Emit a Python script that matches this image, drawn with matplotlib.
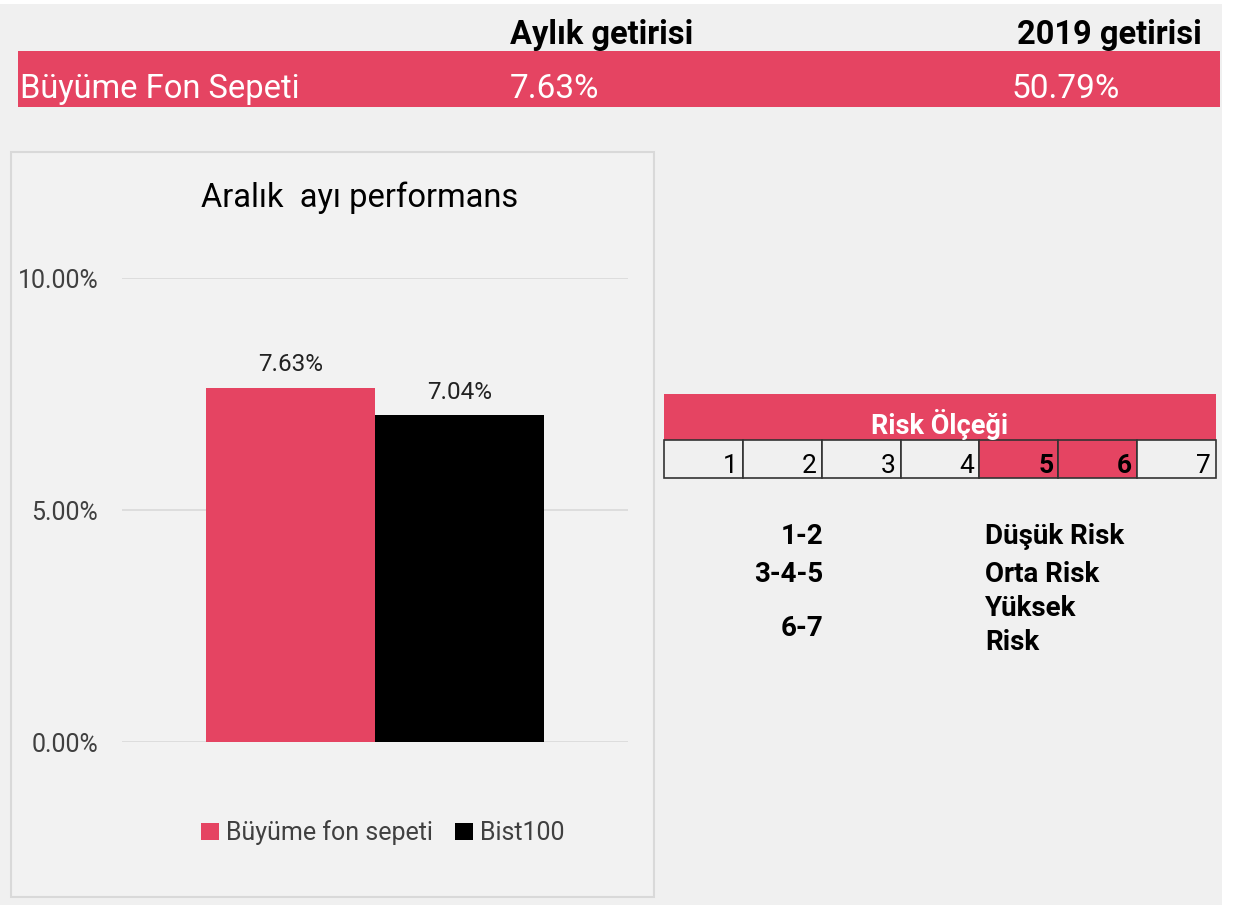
import matplotlib
matplotlib.use("Agg")
import matplotlib.pyplot as plt
from matplotlib.patches import Rectangle
from matplotlib.ticker import FuncFormatter

# veri
header_cols = ["Aylık getirisi", "2019 getirisi"]
fund_name = "Büyüme Fon Sepeti"
fund_returns = [7.63, 50.79]

chart_title = "Aralık  ayı performans"
series_names = ["Büyüme fon sepeti", "Bist100"]
series_values = [7.63, 7.04]
y_ticks = [0, 5, 10]

risk_title = "Risk Ölçeği"
risk_levels = [1, 2, 3, 4, 5, 6, 7]
fund_risk = [5, 6]
risk_groups = ["1-2", "3-4-5", "6-7"]
risk_names = ["Düşük Risk", "Orta Risk", "Yüksek\nRisk"]

RED = "#e54462"
BG = "#f0f0f0"
GREY_TXT = "#404040"

plt.rcParams["font.family"] = ["Roboto", "DejaVu Sans"]
NARROW = ["Liberation Sans Narrow", "Roboto", "DejaVu Sans"]

W, H = 1234, 908
fig = plt.figure(figsize=(W / 100, H / 100), dpi=100, facecolor="white")

# arka plan katmani (piksel koordinatlari)
bg = fig.add_axes([0, 0, 1, 1], zorder=0)
bg.set_xlim(0, W)
bg.set_ylim(H, 0)
bg.axis("off")
bg.add_patch(Rectangle((0, 4), 1222, 901, color=BG, lw=0))

# ust baslik tablosu
bg.text(510, 44, header_cols[0], fontsize=23.5, fontweight="bold", family=NARROW, ha="left", va="baseline")
bg.text(1202, 44, header_cols[1], fontsize=23.5, fontweight="bold", family=NARROW, ha="right", va="baseline")
bg.add_patch(Rectangle((18, 51), 1202, 56, color=RED, lw=0))
bg.text(20, 98, fund_name, fontsize=23.5, color="white", ha="left", va="baseline")
bg.text(510, 98, f"{fund_returns[0]:.2f}%", fontsize=24, color="white", ha="left", va="baseline")
bg.text(1012, 98, f"{fund_returns[1]:.2f}%", fontsize=24, color="white", ha="left", va="baseline")

# grafik kutusu
bg.add_patch(Rectangle((11, 152), 643, 745, facecolor="#f2f2f2", edgecolor="#d9d9d9", lw=1.5))
bg.text(360, 207, chart_title, fontsize=23.5, color="black", ha="center", va="baseline")

# cubuk grafik
ax = fig.add_axes([122 / W, 1 - 742 / H, 506 / W, 464 / H], zorder=1)
ax.patch.set_alpha(0)
xpos = [-0.167, 0.167]
bars = []
for x, v, c, name in zip(xpos, series_values, [RED, "black"], series_names):
    b = ax.bar(x, v, width=0.334, color=c, label=name, zorder=2)
    bars.append(b)
    ax.text(x, v + 0.25, f"{v:.2f}%", ha="center", va="bottom", fontsize=17.5, color="#222222")
ax.set_xlim(-0.5, 0.5)
ax.set_ylim(0, 10)
ax.set_yticks(y_ticks)
ax.yaxis.set_major_formatter(FuncFormatter(lambda v, p: f"{v:.2f}%"))
ax.set_xticks([])
ax.tick_params(axis="y", length=0, pad=17, labelsize=18, labelcolor=GREY_TXT)
ax.grid(axis="y", color="#d9d9d9", lw=1.2, zorder=0)
for s in ax.spines.values():
    s.set_visible(False)

fig.legend(handles=[b[0] for b in bars], labels=series_names, loc="center",
           bbox_to_anchor=(383 / W, 1 - 833 / H), ncol=2, frameon=False,
           handlelength=0.7, handleheight=0.7, handletextpad=0.3, columnspacing=0.9,
           prop={"size": 18}, labelcolor=GREY_TXT)

# risk olcegi
bg.add_patch(Rectangle((664, 394), 552, 46, color=RED, lw=0))
bg.text(940, 434, risk_title, fontsize=19.5, fontweight="bold", color="white", ha="center", va="baseline")
cw = 552 / len(risk_levels)
for i, lvl in enumerate(risk_levels):
    x0 = 664 + i * cw
    hot = lvl in fund_risk
    bg.add_patch(Rectangle((x0, 440), cw, 38, facecolor=RED if hot else BG, edgecolor="#333333", lw=1.2))
    bg.text(x0 + cw - 5, 473, str(lvl), fontsize=19, fontweight="bold" if hot else "normal",
            color="black", ha="right", va="baseline")

group_y = [544, 582, 636]
name_y = [[544], [582], [616, 650]]
for g, n, gy, ny in zip(risk_groups, risk_names, group_y, name_y):
    bg.text(823, gy, g, fontsize=20, fontweight="bold", ha="right", va="baseline")
    for line, y in zip(n.split("\n"), ny):
        bg.text(985, y, line, fontsize=20, fontweight="bold", ha="left", va="baseline")

fig.savefig("out.png", dpi=100, facecolor=fig.get_facecolor())
